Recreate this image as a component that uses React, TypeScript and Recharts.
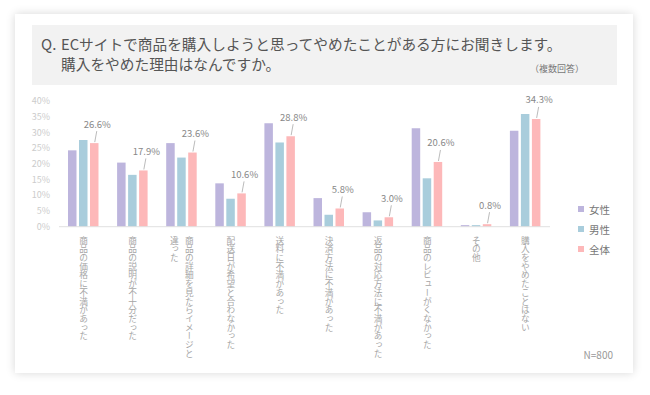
import React from 'react'
import {Bar, BarChart, LabelList, XAxis, YAxis} from 'recharts'

const categories = [
  '商品の価格に不満があった',
  '商品の説明が不十分だった',
  '商品の詳細を見たらイメージと\n違った',
  '配送日が希望と合わなかった',
  '送料に不満があった',
  '決済方法に不満があった',
  '返品の対応方法に不満があった',
  '商品のレビューがくなかった',
  'その他',
  '購入をやめたことはない',
]
const female = [24.3, 20.4, 26.6, 13.8, 32.9, 9.1, 4.6, 31.3, 0.5, 30.5]
const male = [27.6, 16.5, 22.0, 8.9, 26.8, 3.8, 2.0, 15.4, 0.5, 35.9]
const total = [26.6, 17.9, 23.6, 10.6, 28.8, 5.8, 3.0, 20.6, 0.8, 34.3]
const yTicks = [0, 5, 10, 15, 20, 25, 30, 35, 40]
const seriesNames = ['女性', '男性', '全体']

const colors = ['#bdb5dd', '#a9cddc', '#fdb8b9']
const font = '"Noto Sans CJK JP", "Noto Sans", sans-serif'

const data = categories.map((name, i) => ({
  name,
  female: female[i],
  male: male[i],
  total: total[i],
}))

// vertical japanese labels, html handles vert glyphs better than svg text
function CategoryTick(props: any) {
  const {x, y, payload} = props
  const lines = String(payload.value).split('\n')
  const w = lines.length * 15
  return (
    <foreignObject x={x - w / 2} y={y + 7} width={w} height={140}>
      <div
        style={{
          writingMode: 'vertical-rl',
          fontSize: 8.7,
          lineHeight: '15px',
          color: '#a6a6a6',
          fontFamily: font,
          whiteSpace: 'pre',
          height: 140,
        }}
      >
        {payload.value}
      </div>
    </foreignObject>
  )
}

function TotalLabel(props: any) {
  const {x, y, width, value} = props
  const cx = x + width / 2
  return (
    <g>
      <line x1={cx + 0.5} y1={y - 1} x2={cx + 2.5} y2={y - 12} stroke="#aaa" strokeWidth={0.8} />
      <text x={cx + 3} y={y - 15.5} textAnchor="middle" fill="#888" fontSize={9.5} fontFamily={font}>
        {value.toFixed(1)}%
      </text>
    </g>
  )
}

export default function App() {
  return (
    <div style={{position: 'absolute', left: 0, top: 0, width: 650, height: 395, background: '#fff', fontFamily: font}}>
      <div style={{position: 'absolute', left: 15, top: 14, width: 618, height: 359, background: '#fff', boxShadow: '0 0 9px rgba(0,0,0,0.16)'}} />
      <div style={{position: 'absolute', left: 32, top: 25, width: 585, height: 60, background: '#f2f2f2'}} />
      <div style={{position: 'absolute', left: 41, top: 34, fontSize: 15, color: '#555', lineHeight: '20px', whiteSpace: 'nowrap'}}>
        Q.
      </div>
      <div style={{position: 'absolute', left: 61, top: 34, fontSize: 14.7, color: '#555', lineHeight: '20px', whiteSpace: 'nowrap'}}>
        <div>ECサイトで商品を購入しようと思ってやめたことがある方にお聞きします。</div>
        <div>購入をやめた理由はなんですか。</div>
      </div>
      <div style={{position: 'absolute', left: 530, top: 62, fontSize: 9, color: '#777', whiteSpace: 'nowrap'}}>
        （複数回答）
      </div>

      <div style={{position: 'absolute', left: 0, top: 0}}>
        <BarChart
          width={650}
          height={395}
          data={data}
          margin={{top: 101, right: 100, bottom: 38.3, left: 0}}
          barSize={8.5}
          barGap={2.5}
        >
          <XAxis
            dataKey="name"
            height={130}
            interval={0}
            tickLine={false}
            tickSize={0}
            axisLine={{stroke: '#e0e0e0'}}
            tick={<CategoryTick />}
          />
          <YAxis
            width={59}
            domain={[0, 40]}
            ticks={yTicks}
            interval={0}
            axisLine={false}
            tickLine={false}
            tickSize={0}
            tickMargin={9}
            tickFormatter={(v: number) => v + '%'}
            tick={{fill: '#ccc', fontSize: 9, fontFamily: font}}
          />
          <Bar dataKey="female" name={seriesNames[0]} fill={colors[0]} isAnimationActive={false} />
          <Bar dataKey="male" name={seriesNames[1]} fill={colors[1]} isAnimationActive={false} />
          <Bar dataKey="total" name={seriesNames[2]} fill={colors[2]} isAnimationActive={false}>
            <LabelList dataKey="total" content={<TotalLabel />} />
          </Bar>
        </BarChart>
      </div>

      <div style={{position: 'absolute', left: 578, top: 199}}>
        {seriesNames.map((s, i) => (
          <div key={s} style={{display: 'flex', alignItems: 'center', height: 20, fontSize: 10.5, color: '#777'}}>
            <span style={{display: 'inline-block', width: 6, height: 6, background: colors[i], marginRight: 5}} />
            {s}
          </div>
        ))}
      </div>
      <div style={{position: 'absolute', right: 37, top: 347, fontSize: 10, color: '#999'}}>N=800</div>
    </div>
  )
}
